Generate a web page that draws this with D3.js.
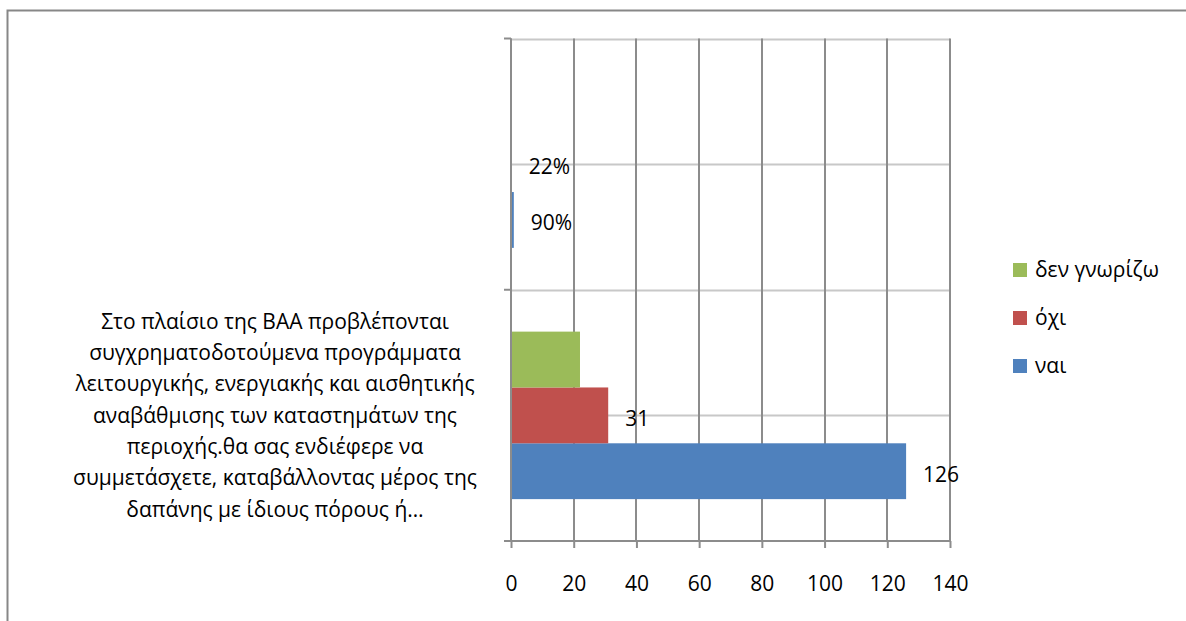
<!DOCTYPE html>
<html>
<head>
<meta charset="utf-8">
<script src="https://cdn.jsdelivr.net/npm/d3@7"></script>
<style>
  body { margin:0; background:#fff; overflow:hidden; }
  svg { display:block; font-family:"Open Sans", "Noto Sans", sans-serif; }
</style>
</head>
<body>
<svg width="1186" height="621"></svg>
<script>
// categories, bottom to top (as excel draws them)
var categories = [
  "Στο πλαίσιο της ΒΑΑ προβλέπονται συγχρηματοδοτούμενα προγράμματα λειτουργικής, ενεργιακής και αισθητικής αναβάθμισης των καταστημάτων της περιοχής.θα σας ενδιέφερε να συμμετάσχετε, καταβάλλοντας μέρος της δαπάνης με ίδιους πόρους ή…",
  ""
];
var categoryLines = [
  ["Στο πλαίσιο της ΒΑΑ προβλέπονται",
   "συγχρηματοδοτούμενα προγράμματα",
   "λειτουργικής, ενεργιακής και αισθητικής",
   "αναβάθμισης των καταστημάτων της",
   "περιοχής.θα σας ενδιέφερε να",
   "συμμετάσχετε, καταβάλλοντας μέρος της",
   "δαπάνης με ίδιους πόρους ή…"],
  []
];
var seriesNames = ["ναι", "όχι", "δεν γνωρίζω"];
var seriesColors = ["#4f81bd", "#c0504d", "#9bbb59"];
var naiValues = [126, 0.9];
var oxiValues = [31, 0.22];
var denValues = [22, 0];
var naiLabels = ["126", "90%"];
var oxiLabels = ["31", "22%"];
var denLabels = ["", ""];
var xTicks = [0, 20, 40, 60, 80, 100, 120, 140];

var series = [
  {name: seriesNames[0], color: seriesColors[0], values: naiValues, labels: naiLabels},
  {name: seriesNames[1], color: seriesColors[1], values: oxiValues, labels: oxiLabels},
  {name: seriesNames[2], color: seriesColors[2], values: denValues, labels: denLabels}
];

var svg = d3.select("svg");
var plot = {left: 511, right: 950, top: 38.5, bottom: 541};

// outer frame, only top and left edges are inside the picture
svg.append("path")
   .attr("d", "M7.5,621V10.5H1186")
   .attr("fill", "none")
   .attr("stroke", "#878787")
   .attr("stroke-width", 2);

var x = d3.scaleLinear().domain([0, 140]).range([plot.left, plot.right]);

// categories from top: second category is drawn on top
var y = d3.scaleBand()
          .domain(d3.range(categories.length).reverse())
          .range([plot.top, plot.bottom]);

// series inside a category: green on top, blue at bottom
var yInner = d3.scaleBand()
               .domain(d3.range(series.length).reverse())
               .range([0, y.bandwidth()])
               .paddingOuter(0.75);

// horizontal gridlines (light) at band edges and centers
var hLines = [];
y.domain().forEach(function(c) {
  hLines.push(y(c));
  hLines.push(y(c) + y.bandwidth() / 2);
});
svg.append("g").selectAll("line")
   .data(hLines)
   .enter().append("line")
   .attr("x1", plot.left).attr("x2", plot.right)
   .attr("y1", function(d) { return Math.round(d) + 0.5; })
   .attr("y2", function(d) { return Math.round(d) + 0.5; })
   .attr("stroke", "#c8c8c8")
   .attr("stroke-width", 2);

// vertical gridlines
svg.append("g").selectAll("line")
   .data(xTicks)
   .enter().append("line")
   .attr("x1", function(d) { return Math.round(x(d)); })
   .attr("x2", function(d) { return Math.round(x(d)); })
   .attr("y1", plot.top).attr("y2", plot.bottom)
   .attr("stroke", "#8c8c8c")
   .attr("stroke-width", 2);

// bars
series.forEach(function(s, si) {
  svg.append("g").selectAll("rect")
     .data(s.values)
     .enter().append("rect")
     .attr("x", x(0))
     .attr("y", function(d, ci) { return y(ci) + yInner(si); })
     .attr("width", function(d) { return x(d) - x(0); })
     .attr("height", yInner.bandwidth())
     .attr("fill", s.color);

  svg.append("g").selectAll("text")
     .data(s.values)
     .enter().append("text")
     .attr("x", function(d) { return x(d) + 17; })
     .attr("y", function(d, ci) { return y(ci) + yInner(si) + yInner.bandwidth() / 2 + 3; })
     .attr("dy", "0.35em")
     .attr("font-size", 21)
     .attr("fill", "#000")
     .text(function(d, ci) { return s.labels[ci]; });
});

// category axis
var yAxis = svg.append("g");
yAxis.append("line")
     .attr("x1", plot.left).attr("x2", plot.left)
     .attr("y1", plot.top).attr("y2", plot.bottom)
     .attr("stroke", "#8c8c8c").attr("stroke-width", 2);
yAxis.selectAll("line.tick")
     .data(y.domain().map(function(c) { return y(c); }).concat([plot.bottom]))
     .enter().append("line")
     .attr("class", "tick")
     .attr("x1", plot.left - 7).attr("x2", plot.left)
     .attr("y1", function(d) { return d; }).attr("y2", function(d) { return d; })
     .attr("stroke", "#8c8c8c").attr("stroke-width", 2);

// category labels
categoryLines.forEach(function(lines, ci) {
  var cy = y(ci) + y.bandwidth() / 2;
  var lh = 31.3;
  svg.append("g").selectAll("text")
     .data(lines)
     .enter().append("text")
     .attr("x", 275)
     .attr("y", function(d, i) { return cy + (i - (lines.length - 1) / 2) * lh; })
     .attr("dy", "0.35em")
     .attr("text-anchor", "middle")
     .attr("font-size", 21)
     .text(function(d) { return d; });
});

// value axis
var xAxis = svg.append("g")
   .attr("transform", "translate(0," + plot.bottom + ")")
   .call(d3.axisBottom(x).tickValues(xTicks).tickSize(7).tickPadding(28).tickSizeOuter(0));
xAxis.select(".domain").attr("stroke", "#8c8c8c").attr("stroke-width", 2)
     .attr("d", "M" + (plot.left - 7) + ",0H" + plot.right);
xAxis.selectAll(".tick line").attr("stroke", "#8c8c8c").attr("stroke-width", 2);
xAxis.selectAll(".tick text")
     .attr("font-size", 21)
     .attr("font-family", "'Open Sans', 'Noto Sans', sans-serif")
     .attr("fill", "#000");

// legend (reverse order, as excel shows it)
var legend = svg.append("g").selectAll("g")
   .data(series.slice().reverse())
   .enter().append("g")
   .attr("transform", function(d, i) { return "translate(1013," + (270 + i * 48) + ")"; });
legend.append("rect")
      .attr("x", 0).attr("y", -7)
      .attr("width", 14).attr("height", 14)
      .attr("fill", function(d) { return d.color; });
legend.append("text")
      .attr("x", 22).attr("y", 0)
      .attr("dy", "0.35em")
      .attr("font-size", 21)
      .text(function(d) { return d.name; });
</script>
</body>
</html>
